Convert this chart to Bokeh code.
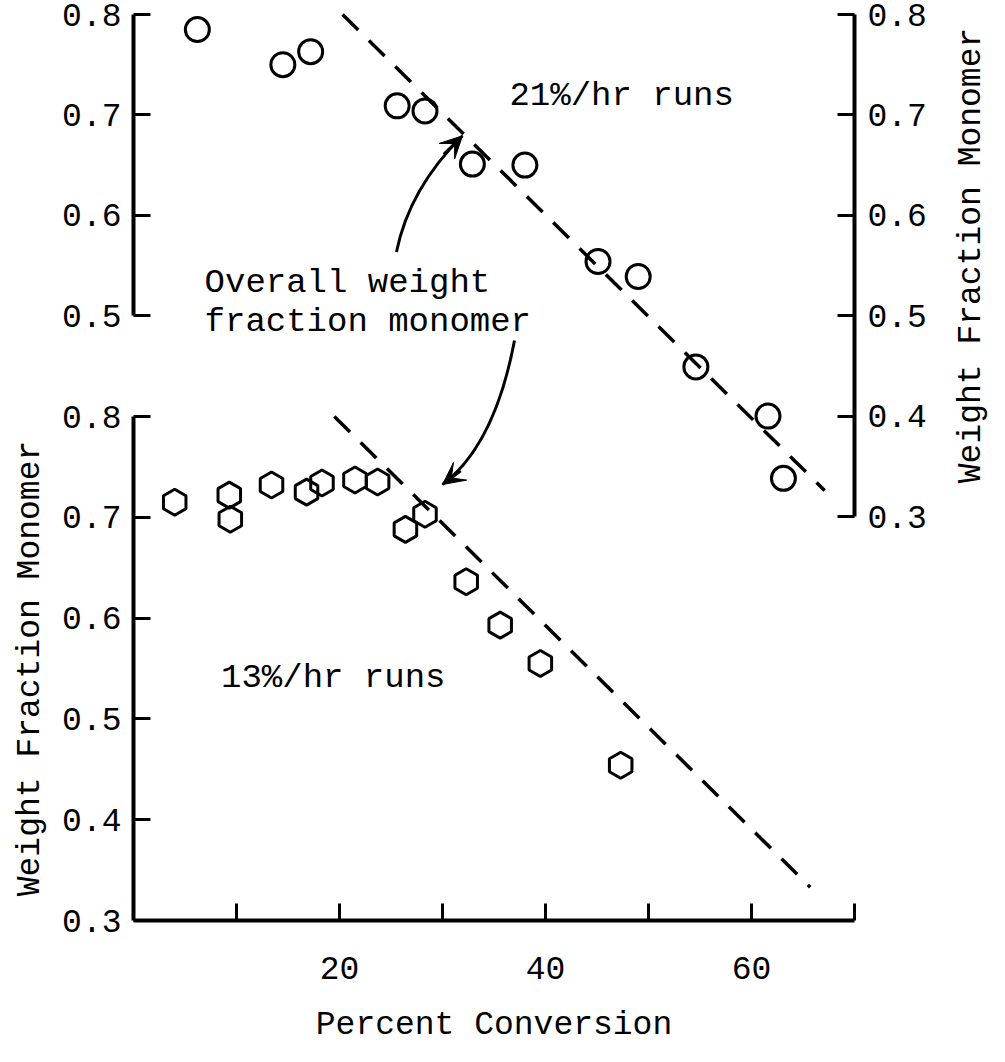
import math
from bokeh.plotting import figure
from bokeh.models import Range1d, LinearAxis, FixedTicker, Arrow, VeeHead
from bokeh.core.properties import value
from bokeh.embed import file_html
from bokeh.resources import INLINE

FONT = "Liberation Mono"

# ---------------- data ----------------
# 21 %/hr runs : circles, upper panel (right-hand scale)
conv_21 = [6.2, 14.5, 17.2, 25.6, 28.3, 32.9, 38.0, 45.1, 49.0, 54.6, 61.6, 63.1]
wfm_21 = [0.785, 0.750, 0.763, 0.709, 0.704, 0.651, 0.650, 0.554, 0.539, 0.449, 0.400, 0.338]
# 13 %/hr runs : hexagons, lower panel (left-hand scale)
conv_13 = [4.0, 9.3, 9.4, 13.4, 16.8, 18.3, 21.5, 23.7, 26.4, 28.3, 32.3, 35.6, 39.5, 47.3]
wfm_13 = [0.715, 0.722, 0.698, 0.732, 0.725, 0.734, 0.737, 0.735, 0.688, 0.703, 0.636, 0.593, 0.555, 0.454]
# overall weight fraction monomer (dashed lines)
overall_21_x = [20.3, 67.1]
overall_21_y = [0.800, 0.326]
overall_13_x = [19.5, 65.7]
overall_13_y = [0.800, 0.333]
# ticks
x_major = [20, 40, 60]
x_minor = [10, 30, 50, 70]
y_ticks = [0.3, 0.4, 0.5, 0.6, 0.7, 0.8]
y_ticks_upper_left = [0.5, 0.6, 0.7, 0.8]
x_bounds = (0, 70)
y_bounds_lower = (0.3, 0.8)
y_bounds_upper_left = (0.5, 0.8)
y_bounds_right = (0.3, 0.8)

# ---------------- layout (frame covers the whole figure; axes are pinned) ----------------
W, H = 989, 1046
AX_L, AX_R = 133, 854          # figure px of x=0 and x=70
ppx = (AX_R - AX_L) / (x_bounds[1] - x_bounds[0])
x_range = Range1d(x_bounds[0] - AX_L / ppx, x_bounds[1] + (W - AX_R) / ppx)

# lower scale: 0.3 at figure px 920, 0.8 at 416
LOW03, LOW08 = 920, 416
low_ppu = (LOW03 - LOW08) / 0.5
bot_range = Range1d(0.3 - (H - LOW03) / low_ppu, 0.3 + LOW03 / low_ppu)
# upper scale: 0.8 at figure px 14, 0.3 at 516
UP08, UP03 = 14, 516
up_ppu = (UP03 - UP08) / 0.5
top_range = Range1d(0.3 - (H - UP03) / up_ppu, 0.8 + UP08 / up_ppu)

p = figure(width=W, height=H, x_range=x_range, y_range=bot_range,
           x_axis_location=None, y_axis_location=None,
           output_backend="svg", toolbar_location=None,
           min_border=0, min_border_left=0, min_border_right=0,
           min_border_top=0, min_border_bottom=0,
           background_fill_color="white", border_fill_color="white")
p.outline_line_color = None
p.extra_y_ranges = {"top": top_range}
p.xgrid.visible = False
p.ygrid.visible = False
p.grid.visible = False


def style(ax, ticks, minor=None):
    ax.ticker = FixedTicker(ticks=ticks, minor_ticks=minor or [])
    ax.axis_line_width = 4
    ax.axis_line_color = "black"
    ax.major_tick_in = 17
    ax.major_tick_out = 0
    ax.major_tick_line_width = 3
    ax.major_tick_line_color = "black"
    if minor:
        ax.minor_tick_in = 17
        ax.minor_tick_out = 0
        ax.minor_tick_line_width = 3
        ax.minor_tick_line_color = "black"
    else:
        ax.minor_tick_line_color = None
    ax.major_label_text_font = FONT
    ax.major_label_text_font_size = "33px"
    ax.major_label_text_color = "black"


xa = LinearAxis(fixed_location=0.3)
style(xa, x_major, x_minor)
xa.bounds = x_bounds
xa.major_label_standoff = 36
p.add_layout(xa, "below")

ya = LinearAxis(fixed_location=0)
style(ya, y_ticks)
ya.bounds = y_bounds_lower
ya.major_label_standoff = 12
p.add_layout(ya, "left")

ul = LinearAxis(y_range_name="top", fixed_location=0)
style(ul, y_ticks_upper_left)
ul.bounds = y_bounds_upper_left
ul.major_label_standoff = 12
p.add_layout(ul, "left")

ra = LinearAxis(y_range_name="top", fixed_location=70)
style(ra, y_ticks)
ra.bounds = y_bounds_right
ra.major_label_standoff = 13
p.add_layout(ra, "right")

# axis titles
title_kw = dict(text_font=value(FONT), text_font_size="33px", text_color="black",
                text_align="center", text_baseline="middle")
p.text(x=[sum(x_bounds) / 2], y=[0.196], text=["Percent Conversion"], **title_kw)
p.text(x=[-10.0], y=[sum(y_bounds_lower) / 2], text=["Weight Fraction Monomer"],
       angle=math.pi / 2, **title_kw)
p.text(x=[81.4], y=[0.56], text=["Weight Fraction Monomer"], y_range_name="top",
       angle=math.pi / 2, **title_kw)

# dashed overall lines
p.line(overall_21_x, overall_21_y, y_range_name="top", line_color="black",
       line_width=3.5, line_dash="22 15")
p.line(overall_13_x, overall_13_y, line_color="black", line_width=3.5, line_dash="22 15")

# markers
p.scatter(conv_21, wfm_21, marker="circle", size=24, fill_color=None,
          line_color="black", line_width=3, y_range_name="top")
p.scatter(conv_13, wfm_13, marker="hex", angle=math.pi / 2, size=26, fill_color=None,
          line_color="black", line_width=3)

# annotation texts
ann_kw = dict(text_font=value(FONT), text_font_size="34px", text_color="black",
              text_align="left", text_baseline="middle")
p.text(x=[36.5, 6.9, 6.9], y=[0.719, 0.533, 0.494],
       text=["21%/hr runs", "Overall weight", "fraction monomer"], y_range_name="top", **ann_kw)
p.text(x=[8.5], y=[0.541], text=["13%/hr runs"], **ann_kw)

# curved arrows
p.quadratic(x0=[25.53], y0=[0.5634], cx=[26.77], cy=[0.6265], x1=[31.94], y1=[0.6792],
            line_color="black", line_width=3, y_range_name="top")
p.add_layout(Arrow(end=VeeHead(size=22, fill_color="black", line_color="black", line_width=1),
                   x_start=30.13, y_start=0.6608, x_end=31.94, y_end=0.6792,
                   line_color="black", line_width=3, y_range_name="top"))
p.quadratic(x0=[36.99], y0=[0.8754], cx=[35.06], cy=[0.7713], x1=[30.0], y1=[0.7325],
            line_color="black", line_width=3)
p.add_layout(Arrow(end=VeeHead(size=22, fill_color="black", line_color="black", line_width=1),
                   x_start=31.77, y_start=0.7461, x_end=30.0, y_end=0.7325,
                   line_color="black", line_width=3))

open("out.html", "w").write(file_html(p, INLINE))
